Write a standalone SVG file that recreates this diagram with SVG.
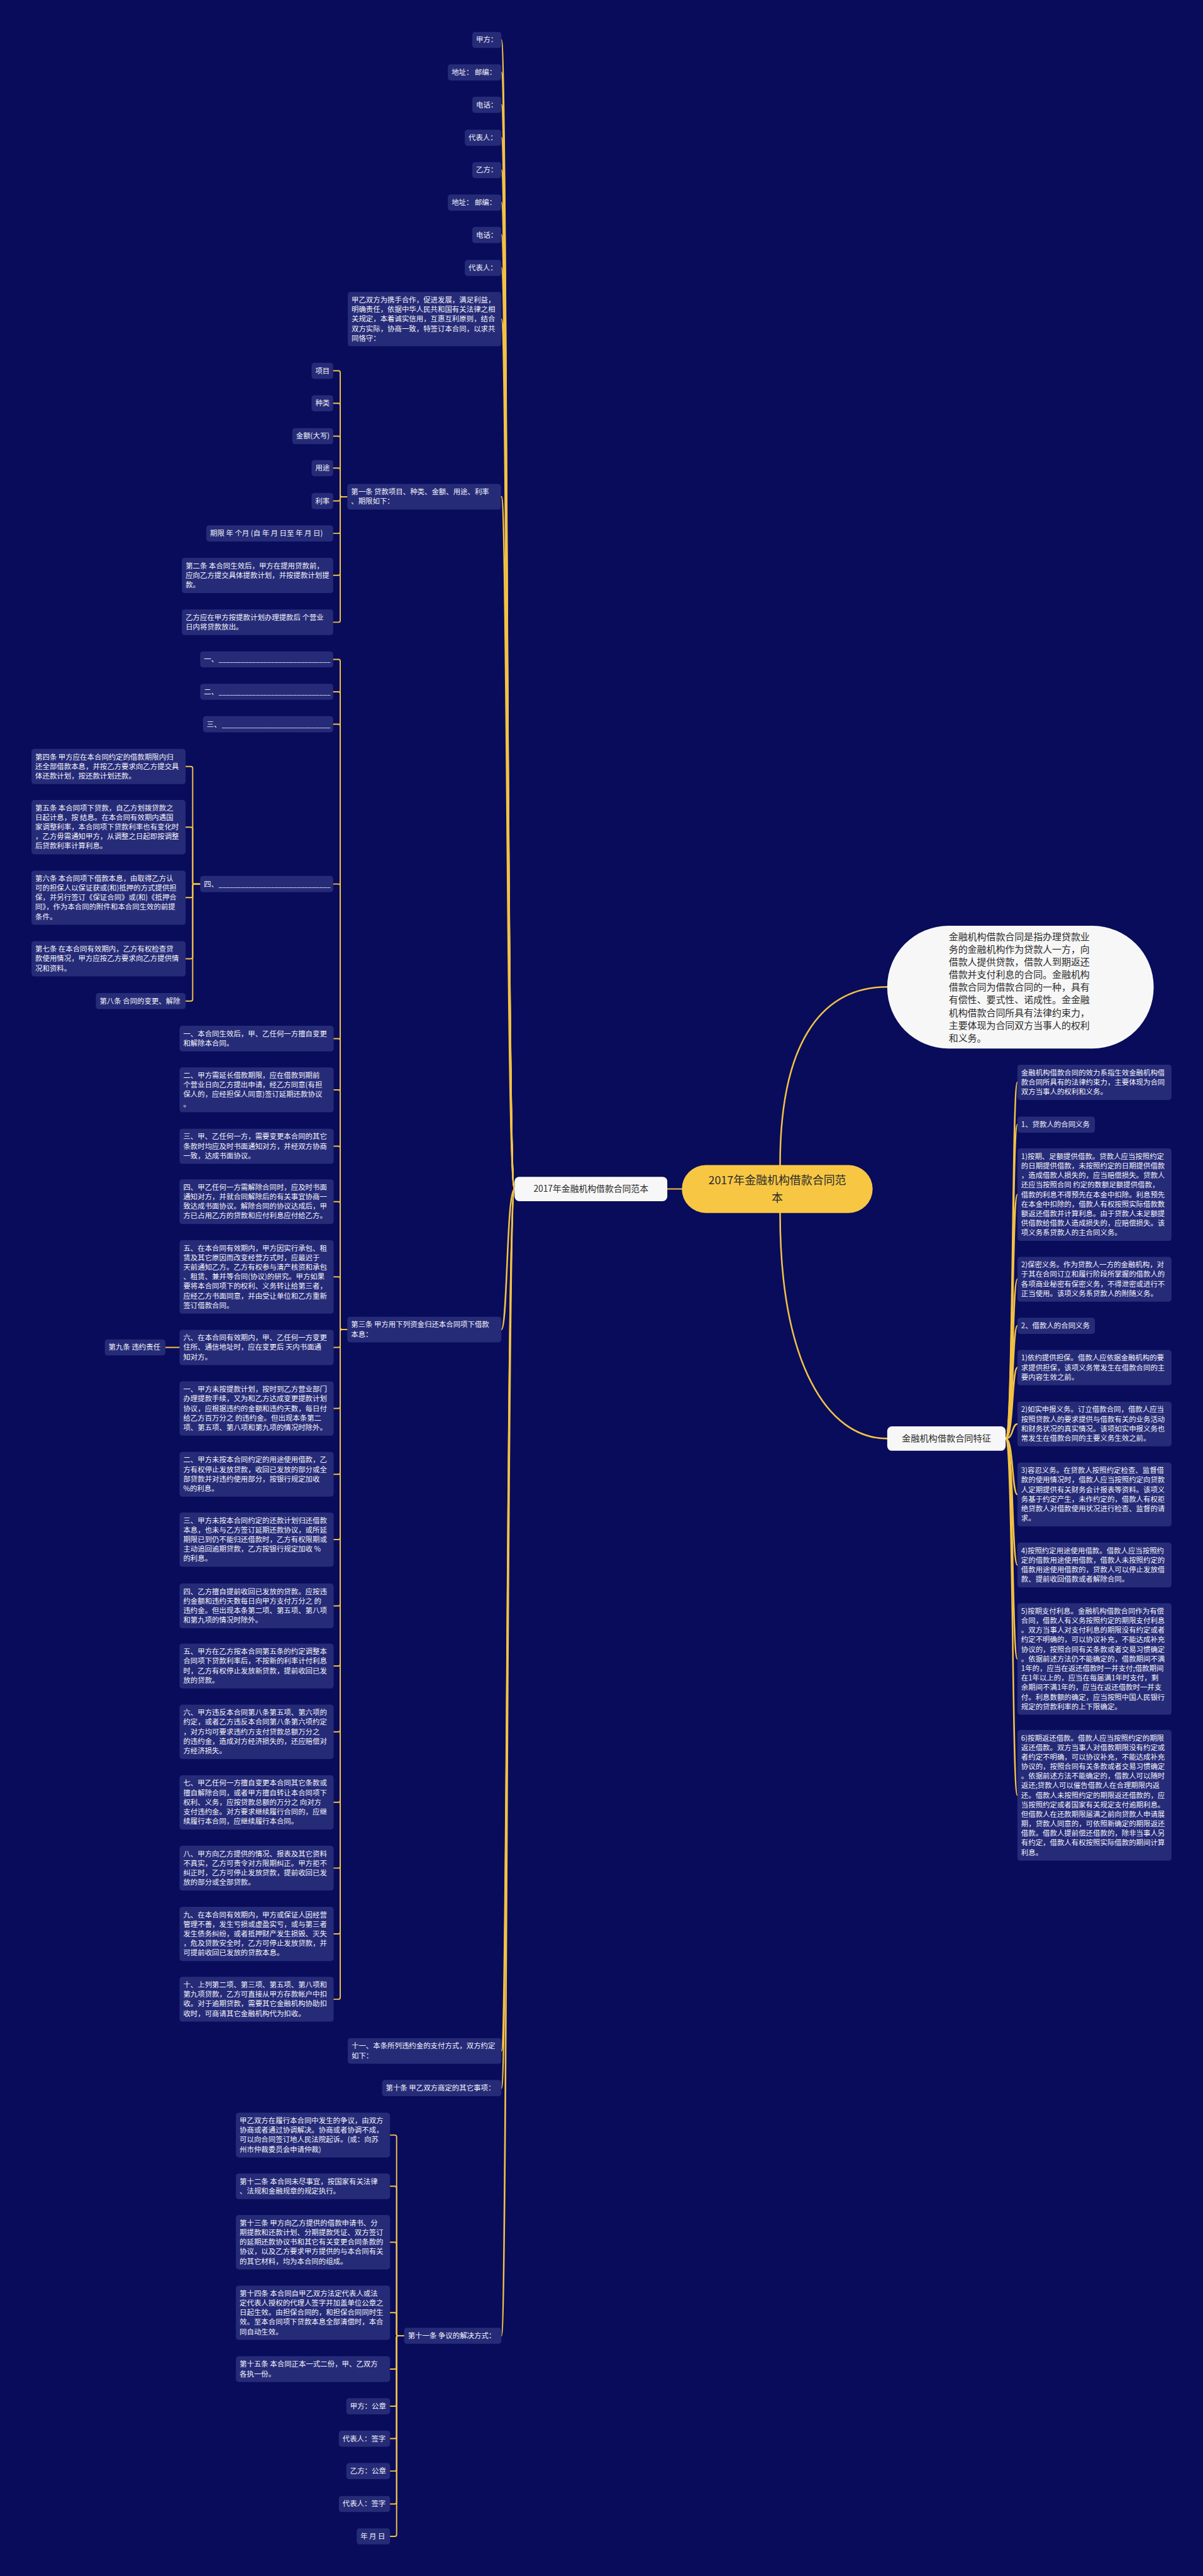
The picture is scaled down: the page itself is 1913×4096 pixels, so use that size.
<svg xmlns="http://www.w3.org/2000/svg" width="1913" height="4096" viewBox="0 0 1913 4096">
<style>
.n{fill:#262b78}
.t{font-family:"Noto Sans CJK SC","Noto Sans",sans-serif;font-size:15.3px;fill:#f4f4f8}
.w{fill:#f7f7f7}
.tw{font-family:"Noto Sans CJK SC","Noto Sans",sans-serif;fill:#2b2b2b}
.c{fill:none;stroke:#f3c244;stroke-width:2.6;stroke-linecap:round}
.k{fill:none;stroke:#f3c244;stroke-width:3.4;stroke-linecap:round}
</style>
<rect width="1913" height="4096" fill="#080c5b"/>
<g transform="scale(0.74727)">
<g id="connectors">
<path class="c" d="M1451 2530H1420"/>
<path class="k" d="M1660 2479C1660 2200 1760 2100 1888 2100"/>
<path class="k" d="M1660 2581C1660 2900 1760 3061 1888 3061"/>
<path class="k" d="M1095 2530C1078 2530 1080 85 1067 85"/>
<path class="k" d="M1095 2530C1078 2530 1080 154 1067 154"/>
<path class="k" d="M1095 2530C1078 2530 1080 223 1067 223"/>
<path class="k" d="M1095 2530C1078 2530 1080 293 1067 293"/>
<path class="k" d="M1095 2530C1078 2530 1080 362 1067 362"/>
<path class="k" d="M1095 2530C1078 2530 1080 431 1067 431"/>
<path class="k" d="M1095 2530C1078 2530 1080 500 1067 500"/>
<path class="k" d="M1095 2530C1078 2530 1080 570 1067 570"/>
<path class="k" d="M1095 2530C1078 2530 1080 679 1067 679"/>
<path class="k" d="M1095 2530C1078 2530 1080 1057 1067 1057"/>
<path class="k" d="M1095 2530C1078 2530 1080 2829 1067 2829"/>
<path class="k" d="M1095 2530C1078 2530 1080 4364 1067 4364"/>
<path class="k" d="M1095 2530C1078 2530 1080 4443 1067 4443"/>
<path class="k" d="M1095 2530C1078 2530 1080 4970 1067 4970"/>
<path class="c" d="M739 1057H727Q724 1057 724 1054V793Q724 789 720 789H709"/>
<path class="c" d="M739 1057H727Q724 1057 724 1054V862Q724 858 720 858H709"/>
<path class="c" d="M739 1057H727Q724 1057 724 1054V932Q724 928 720 928H709"/>
<path class="c" d="M739 1057H727Q724 1057 724 1054V1000Q724 996 720 996H709"/>
<path class="c" d="M739 1057H727Q724 1057 724 1060V1062Q724 1066 720 1066H709"/>
<path class="c" d="M739 1057H727Q724 1057 724 1060V1131Q724 1135 720 1135H709"/>
<path class="c" d="M739 1057H727Q724 1057 724 1060V1220Q724 1224 720 1224H709"/>
<path class="c" d="M739 1057H727Q724 1057 724 1060V1320Q724 1324 720 1324H709"/>
<path class="c" d="M739 2829H727Q724 2829 724 2826V1407Q724 1403 720 1403H709"/>
<path class="c" d="M739 2829H727Q724 2829 724 2826V1476Q724 1472 720 1472H709"/>
<path class="c" d="M739 2829H727Q724 2829 724 2826V1545Q724 1541 720 1541H709"/>
<path class="c" d="M739 2829H727Q724 2829 724 2826V1885Q724 1881 720 1881H709"/>
<path class="c" d="M739 2829H727Q724 2829 724 2826V2214Q724 2210 720 2210H710"/>
<path class="c" d="M739 2829H727Q724 2829 724 2826V2323Q724 2319 720 2319H710"/>
<path class="c" d="M739 2829H727Q724 2829 724 2826V2443Q724 2439 720 2439H710"/>
<path class="c" d="M739 2829H727Q724 2829 724 2826V2561Q724 2557 720 2557H710"/>
<path class="c" d="M739 2829H727Q724 2829 724 2826V2721Q724 2717 720 2717H710"/>
<path class="c" d="M739 2829H727Q724 2829 724 2832V2863Q724 2867 720 2867H710"/>
<path class="c" d="M739 2829H727Q724 2829 724 2832V2993Q724 2997 720 2997H710"/>
<path class="c" d="M739 2829H727Q724 2829 724 2832V3133Q724 3137 720 3137H710"/>
<path class="c" d="M739 2829H727Q724 2829 724 2832V3272Q724 3276 720 3276H710"/>
<path class="c" d="M739 2829H727Q724 2829 724 2832V3413Q724 3417 720 3417H710"/>
<path class="c" d="M739 2829H727Q724 2829 724 2832V3541Q724 3545 720 3545H710"/>
<path class="c" d="M739 2829H727Q724 2829 724 2832V3681Q724 3685 720 3685H710"/>
<path class="c" d="M739 2829H727Q724 2829 724 2832V3831Q724 3835 720 3835H710"/>
<path class="c" d="M739 2829H727Q724 2829 724 2832V3971Q724 3975 720 3975H710"/>
<path class="c" d="M739 2829H727Q724 2829 724 2832V4111Q724 4115 720 4115H710"/>
<path class="c" d="M739 2829H727Q724 2829 724 2832V4250Q724 4254 720 4254H710"/>
<path class="c" d="M426 1881H413Q410 1881 410 1878V1635Q410 1631 406 1631H395"/>
<path class="c" d="M426 1881H413Q410 1881 410 1878V1764Q410 1760 406 1760H395"/>
<path class="c" d="M426 1881H413Q410 1881 410 1884V1906Q410 1910 406 1910H395"/>
<path class="c" d="M426 1881H413Q410 1881 410 1884V2036Q410 2040 406 2040H395"/>
<path class="c" d="M426 1881H413Q410 1881 410 1884V2126Q410 2130 406 2130H395"/>
<path class="c" d="M382 2867H352"/>
<path class="c" d="M860 4970H847Q844 4970 844 4967V4547Q844 4543 840 4543H830"/>
<path class="c" d="M860 4970H847Q844 4970 844 4967V4656Q844 4652 840 4652H830"/>
<path class="c" d="M860 4970H847Q844 4970 844 4967V4775Q844 4771 840 4771H830"/>
<path class="c" d="M860 4970H847Q844 4970 844 4967V4925Q844 4921 840 4921H830"/>
<path class="c" d="M860 4970H847Q844 4970 844 4973V5037Q844 5041 840 5041H830"/>
<path class="c" d="M860 4970H847Q844 4970 844 4973V5116Q844 5120 840 5120H830"/>
<path class="c" d="M860 4970H847Q844 4970 844 4973V5185Q844 5189 840 5189H830"/>
<path class="c" d="M860 4970H847Q844 4970 844 4973V5254Q844 5258 840 5258H830"/>
<path class="c" d="M860 4970H847Q844 4970 844 4973V5324Q844 5328 840 5328H830"/>
<path class="c" d="M860 4970H847Q844 4970 844 4973V5393Q844 5397 840 5397H830"/>
<path class="k" d="M2140 3061C2157 3061 2153 2303 2165 2303"/>
<path class="k" d="M2140 3061C2157 3061 2153 2393 2165 2393"/>
<path class="k" d="M2140 3061C2157 3061 2153 2542 2165 2542"/>
<path class="k" d="M2140 3061C2157 3061 2153 2722 2165 2722"/>
<path class="k" d="M2140 3061C2157 3061 2153 2821 2165 2821"/>
<path class="k" d="M2140 3061C2157 3061 2153 2910 2165 2910"/>
<path class="k" d="M2140 3061C2157 3061 2153 3030 2165 3030"/>
<path class="k" d="M2140 3061C2157 3061 2153 3180 2165 3180"/>
<path class="k" d="M2140 3061C2157 3061 2153 3330 2165 3330"/>
<path class="k" d="M2140 3061C2157 3061 2153 3530 2165 3530"/>
<path class="k" d="M2140 3061C2157 3061 2153 3820 2165 3820"/>
</g>

<g id="root"><rect x="1451" y="2479" width="406" height="102" rx="51" fill="#f7c744"/><text class="tw" font-size="24" text-anchor="middle"><tspan x="1654" y="2519.5">2017年金融机构借款合同范</tspan><tspan x="1654" y="2557.5">本</tspan></text></g>
<g id="branch-left"><rect class="w" x="1095" y="2504" width="325" height="52" rx="10"/><text class="tw" font-size="18.5" x="1257.5" y="2536.5" text-anchor="middle">2017年金融机构借款合同范本</text></g>
<g id="branch-bubble"><rect class="w" x="1888" y="1970" width="567" height="261" rx="130"/><text class="tw" font-size="20"><tspan x="2019" y="2000">金融机构借款合同是指办理贷款业</tspan><tspan x="2019" y="2027">务的金融机构作为贷款人一方，向</tspan><tspan x="2019" y="2054">借款人提供贷款，借款人到期返还</tspan><tspan x="2019" y="2081">借款并支付利息的合同。金融机构</tspan><tspan x="2019" y="2108">借款合同为借款合同的一种，具有</tspan><tspan x="2019" y="2135">有偿性、要式性、诺成性。金金融</tspan><tspan x="2019" y="2162">机构借款合同所具有法律约束力，</tspan><tspan x="2019" y="2189">主要体现为合同双方当事人的权利</tspan><tspan x="2019" y="2216">和义务。</tspan></text></g>
<g id="branch-right"><rect class="w" x="1888" y="3035" width="252" height="52" rx="10"/><text class="tw" font-size="19" x="2014" y="3067.5" text-anchor="middle">金融机构借款合同特征</text></g>

<g id="n-jiafang"><rect class="n" x="1005" y="67.9" width="62" height="34.3" rx="6"/><text class="t" x="1013" y="90.3">甲方：</text></g>
<g id="n-addr1"><rect class="n" x="953" y="136.9" width="114" height="34.3" rx="6"/><text class="t" x="961" y="159.3">地址： 邮编：</text></g>
<g id="n-tel1"><rect class="n" x="1005" y="205.9" width="62" height="34.3" rx="6"/><text class="t" x="1013" y="228.3">电话：</text></g>
<g id="n-rep1"><rect class="n" x="989" y="275.9" width="78" height="34.3" rx="6"/><text class="t" x="997" y="298.3">代表人：</text></g>
<g id="n-yifang"><rect class="n" x="1005" y="344.9" width="62" height="34.3" rx="6"/><text class="t" x="1013" y="367.3">乙方：</text></g>
<g id="n-addr2"><rect class="n" x="953" y="413.9" width="114" height="34.3" rx="6"/><text class="t" x="961" y="436.3">地址： 邮编：</text></g>
<g id="n-tel2"><rect class="n" x="1005" y="482.9" width="62" height="34.3" rx="6"/><text class="t" x="1013" y="505.3">电话：</text></g>
<g id="n-rep2"><rect class="n" x="989" y="552.9" width="78" height="34.3" rx="6"/><text class="t" x="997" y="575.3">代表人：</text></g>
<g id="n-intro"><rect class="n" x="740" y="621.3" width="327" height="115.5" rx="6"/><text class="t"><tspan x="748" y="643.7">甲乙双方为携手合作，促进发展，满足利益，</tspan><tspan x="748" y="664">明确责任，依据中华人民共和国有关法律之相</tspan><tspan x="748" y="684.3">关规定，本着诚实信用，互惠互利原则，结合</tspan><tspan x="748" y="704.6">双方实际，协商一致，特签订本合同，以求共</tspan><tspan x="748" y="724.9">同恪守：</tspan></text></g>

<g id="n-art1"><rect class="n" x="739" y="1029.7" width="327" height="54.6" rx="6"/><text class="t"><tspan x="747" y="1052.2">第一条 贷款项目、种类、金额、用途、利率</tspan><tspan x="747" y="1072.5">、期限如下：</tspan></text></g>
<g id="n-xm"><rect class="n" x="663" y="771.9" width="46" height="34.3" rx="6"/><text class="t" x="671" y="794.3">项目</text></g>
<g id="n-zl"><rect class="n" x="663" y="840.9" width="46" height="34.3" rx="6"/><text class="t" x="671" y="863.3">种类</text></g>
<g id="n-je"><rect class="n" x="622" y="910.9" width="87" height="34.3" rx="6"/><text class="t" x="630" y="933.3">金额(大写)</text></g>
<g id="n-yt"><rect class="n" x="663" y="978.9" width="46" height="34.3" rx="6"/><text class="t" x="671" y="1001.3">用途</text></g>
<g id="n-ll"><rect class="n" x="663" y="1048.9" width="46" height="34.3" rx="6"/><text class="t" x="671" y="1071.3">利率</text></g>
<g id="n-qx"><rect class="n" x="439" y="1117.9" width="270" height="34.3" rx="6"/><text class="t" x="447" y="1140.3">期限 年 个月 (自 年 月 日至 年 月 日)</text></g>
<g id="n-art2"><rect class="n" x="387" y="1187.1" width="322" height="74.9" rx="6"/><text class="t"><tspan x="395" y="1209.5">第二条 本合同生效后，甲方在提用贷款前，</tspan><tspan x="395" y="1229.8">应向乙方提交具体提款计划，并按提款计划提</tspan><tspan x="395" y="1250.1">款。</tspan></text></g>
<g id="n-fang"><rect class="n" x="387" y="1296.7" width="322" height="54.6" rx="6"/><text class="t"><tspan x="395" y="1319.2">乙方应在甲方按提款计划办理提款后 个营业</tspan><tspan x="395" y="1339.5">日内将贷款放出。</tspan></text></g>

<g id="n-art3"><rect class="n" x="739" y="2801.7" width="328" height="54.6" rx="6"/><text class="t"><tspan x="747" y="2824.2">第三条 甲方用下列资金归还本合同项下借款</tspan><tspan x="747" y="2844.5">本息：</tspan></text></g>
<g id="n-b1"><rect class="n" x="426" y="1385.9" width="283" height="34.3" rx="6"/><text class="t" x="434" y="1408.3">一、 <tspan x="465" textLength="238" lengthAdjust="spacingAndGlyphs">______________________________</tspan></text></g>
<g id="n-b2"><rect class="n" x="426" y="1454.9" width="283" height="34.3" rx="6"/><text class="t" x="434" y="1477.3">二、 <tspan x="465" textLength="238" lengthAdjust="spacingAndGlyphs">______________________________</tspan></text></g>
<g id="n-b3"><rect class="n" x="432" y="1523.9" width="277" height="34.3" rx="6"/><text class="t" x="440" y="1546.3">三、 <tspan x="472" textLength="231" lengthAdjust="spacingAndGlyphs">_____________________________</tspan></text></g>
<g id="n-b4"><rect class="n" x="426" y="1863.9" width="283" height="34.3" rx="6"/><text class="t" x="434" y="1886.3">四、 <tspan x="465" textLength="238" lengthAdjust="spacingAndGlyphs">______________________________</tspan></text></g>
<g id="n-art4"><rect class="n" x="67" y="1593.6" width="328" height="74.9" rx="6"/><text class="t"><tspan x="75" y="1616">第四条 甲方应在本合同约定的借款期限内归</tspan><tspan x="75" y="1636.3">还全部借款本息，并按乙方要求向乙方提交具</tspan><tspan x="75" y="1656.6">体还款计划，按还款计划还款。</tspan></text></g>
<g id="n-art5"><rect class="n" x="67" y="1702.3" width="328" height="115.5" rx="6"/><text class="t"><tspan x="75" y="1724.7">第五条 本合同项下贷款，自乙方划拨贷款之</tspan><tspan x="75" y="1745">日起计息，按 结息。在本合同有效期内遇国</tspan><tspan x="75" y="1765.3">家调整利率，本合同项下贷款利率也有变化时</tspan><tspan x="75" y="1785.6">，乙方毋需通知甲方，从调整之日起即按调整</tspan><tspan x="75" y="1805.9">后贷款利率计算利息。</tspan></text></g>
<g id="n-art6"><rect class="n" x="67" y="1852.3" width="328" height="115.5" rx="6"/><text class="t"><tspan x="75" y="1874.7">第六条 本合同项下借款本息，由取得乙方认</tspan><tspan x="75" y="1895">可的担保人以保证获或(和)抵押的方式提供担</tspan><tspan x="75" y="1915.3">保，并另行签订《保证合同》或(和)《抵押合</tspan><tspan x="75" y="1935.6">同》，作为本合同的附件和本合同生效的前提</tspan><tspan x="75" y="1955.9">条件。</tspan></text></g>
<g id="n-art7"><rect class="n" x="67" y="2002.6" width="328" height="74.9" rx="6"/><text class="t"><tspan x="75" y="2025">第七条 在本合同有效期内，乙方有权检查贷</tspan><tspan x="75" y="2045.3">款使用情况，甲方应按乙方要求向乙方提供情</tspan><tspan x="75" y="2065.6">况和资料。</tspan></text></g>
<g id="n-art8"><rect class="n" x="204" y="2112.9" width="191" height="34.3" rx="6"/><text class="t" x="212" y="2135.3">第八条 合同的变更、解除</text></g>

<g id="n-c1"><rect class="n" x="382" y="2182.7" width="328" height="54.6" rx="6"/><text class="t"><tspan x="390" y="2205.2">一、本合同生效后，甲、乙任何一方擅自变更</tspan><tspan x="390" y="2225.5">和解除本合同。</tspan></text></g>
<g id="n-c2"><rect class="n" x="382" y="2271.4" width="328" height="95.2" rx="6"/><text class="t"><tspan x="390" y="2293.8">二、甲方需延长借款期限，应在借款到期前</tspan><tspan x="390" y="2314.1">个营业日向乙方提出申请，经乙方同意(有担</tspan><tspan x="390" y="2334.4">保人的，应经担保人同意)签订延期还款协议</tspan><tspan x="390" y="2354.7">。</tspan></text></g>
<g id="n-c3"><rect class="n" x="382" y="2401.6" width="328" height="74.9" rx="6"/><text class="t"><tspan x="390" y="2424">三、甲、乙任何一方，需要变更本合同的其它</tspan><tspan x="390" y="2444.3">条款时均应及时书面通知对方，并经双方协商</tspan><tspan x="390" y="2464.6">一致，达成书面协议。</tspan></text></g>
<g id="n-c4"><rect class="n" x="382" y="2509.4" width="328" height="95.2" rx="6"/><text class="t"><tspan x="390" y="2531.8">四、甲乙任何一方需解除合同时，应及时书面</tspan><tspan x="390" y="2552.1">通知对方，并就合同解除后的有关事宜协商一</tspan><tspan x="390" y="2572.4">致达成书面协议。解除合同的协议达成后，甲</tspan><tspan x="390" y="2592.7">方已占用乙方的贷款和应付利息应付给乙方。</tspan></text></g>
<g id="n-c5"><rect class="n" x="382" y="2639" width="328" height="156.1" rx="6"/><text class="t"><tspan x="390" y="2661.4">五、在本合同有效期内，甲方因实行承包、租</tspan><tspan x="390" y="2681.7">赁及其它原因而改变经营方式时，应最迟于</tspan><tspan x="390" y="2702">天前通知乙方。乙方有权参与清产核资和承包</tspan><tspan x="390" y="2722.3">、租赁、兼并等合同(协议)的研究。甲方如果</tspan><tspan x="390" y="2742.6">要将本合同项下的权利、义务转让给第三者，</tspan><tspan x="390" y="2762.9">应经乙方书面同意，并由受让单位和乙方重新</tspan><tspan x="390" y="2783.2">签订借款合同。</tspan></text></g>
<g id="n-c6"><rect class="n" x="382" y="2829.6" width="328" height="74.9" rx="6"/><text class="t"><tspan x="390" y="2852">六、在本合同有效期内，甲、乙任何一方变更</tspan><tspan x="390" y="2872.3">住所、通信地址时，应在变更后 天内书面通</tspan><tspan x="390" y="2892.6">知对方。</tspan></text></g>
<g id="n-art9"><rect class="n" x="223" y="2849.9" width="129" height="34.3" rx="6"/><text class="t" x="231" y="2872.3">第九条 违约责任</text></g>
<g id="n-d1"><rect class="n" x="382" y="2939.3" width="328" height="115.5" rx="6"/><text class="t"><tspan x="390" y="2961.7">一、甲方未按提款计划，按时到乙方营业部门</tspan><tspan x="390" y="2982">办理提款手续，又为和乙方达成变更提款计划</tspan><tspan x="390" y="3002.3">协议，应根据违约的金额和违约天数，每日付</tspan><tspan x="390" y="3022.6">给乙方百万分之 的违约金。但出现本条第二</tspan><tspan x="390" y="3042.9">项、第五项、第八项和第九项的情况时除外。</tspan></text></g>
<g id="n-d2"><rect class="n" x="382" y="3089.4" width="328" height="95.2" rx="6"/><text class="t"><tspan x="390" y="3111.8">二、甲方未按本合同约定的用途使用借款，乙</tspan><tspan x="390" y="3132.1">方有权停止发放贷款，收回已发放的部分或全</tspan><tspan x="390" y="3152.4">部贷款并对违约使用部分，按银行规定加收</tspan><tspan x="390" y="3172.7">%的利息。</tspan></text></g>
<g id="n-d3"><rect class="n" x="382" y="3218.3" width="328" height="115.5" rx="6"/><text class="t"><tspan x="390" y="3240.7">三、甲方未按本合同约定的还款计划归还借款</tspan><tspan x="390" y="3261">本息，也未与乙方签订延期还款协议，或所延</tspan><tspan x="390" y="3281.3">期限已到仍不能归还借款时，乙方有权限期或</tspan><tspan x="390" y="3301.6">主动追回逾期贷款，乙方按银行规定加收 %</tspan><tspan x="390" y="3321.9">的利息。</tspan></text></g>
<g id="n-d4"><rect class="n" x="382" y="3369.4" width="328" height="95.2" rx="6"/><text class="t"><tspan x="390" y="3391.8">四、乙方擅自提前收回已发放的贷款。应按违</tspan><tspan x="390" y="3412.1">约金额和违约天数每日向甲方支付万分之 的</tspan><tspan x="390" y="3432.4">违约金。但出现本条第二项、第五项、第八项</tspan><tspan x="390" y="3452.7">和第九项的情况时除外。</tspan></text></g>
<g id="n-d5"><rect class="n" x="382" y="3497.4" width="328" height="95.2" rx="6"/><text class="t"><tspan x="390" y="3519.8">五、甲方在乙方按本合同第五条的约定调整本</tspan><tspan x="390" y="3540.1">合同项下贷款利率后，不按新的利率计付利息</tspan><tspan x="390" y="3560.4">时，乙方有权停止发放新贷款，提前收回已发</tspan><tspan x="390" y="3580.7">放的贷款。</tspan></text></g>
<g id="n-d6"><rect class="n" x="382" y="3627.3" width="328" height="115.5" rx="6"/><text class="t"><tspan x="390" y="3649.7">六、甲方违反本合同第八条第五项、第六项的</tspan><tspan x="390" y="3670">约定，或者乙方违反本合同第八条第六项约定</tspan><tspan x="390" y="3690.3">，对方均可要求违约方支付贷款总额万分之</tspan><tspan x="390" y="3710.6">的违约金，造成对方经济损失的，还应赔偿对</tspan><tspan x="390" y="3730.9">方经济损失。</tspan></text></g>
<g id="n-d7"><rect class="n" x="382" y="3777.3" width="328" height="115.5" rx="6"/><text class="t"><tspan x="390" y="3799.7">七、甲乙任何一方擅自变更本合同其它条款或</tspan><tspan x="390" y="3820">擅自解除合同，或者甲方擅自转让本合同项下</tspan><tspan x="390" y="3840.3">权利、义务，应按贷款总额的万分之 向对方</tspan><tspan x="390" y="3860.6">支付违约金。对方要求继续履行合同的，应继</tspan><tspan x="390" y="3880.9">续履行本合同，应继续履行本合同。</tspan></text></g>
<g id="n-d8"><rect class="n" x="382" y="3927.4" width="328" height="95.2" rx="6"/><text class="t"><tspan x="390" y="3949.8">八、甲方向乙方提供的情况、报表及其它资料</tspan><tspan x="390" y="3970.1">不真实，乙方可责令对方限期纠正。甲方拒不</tspan><tspan x="390" y="3990.4">纠正时，乙方可停止发放贷款，提前收回已发</tspan><tspan x="390" y="4010.7">放的部分或全部贷款。</tspan></text></g>
<g id="n-d9"><rect class="n" x="382" y="4057.3" width="328" height="115.5" rx="6"/><text class="t"><tspan x="390" y="4079.7">九、在本合同有效期内，甲方或保证人因经营</tspan><tspan x="390" y="4100">管理不善，发生亏损或虚盈实亏，或与第三者</tspan><tspan x="390" y="4120.3">发生债务纠纷，或者抵押财产发生损毁、灭失</tspan><tspan x="390" y="4140.6">，危及贷款安全时，乙方可停止发放贷款，并</tspan><tspan x="390" y="4160.9">可提前收回已发放的贷款本息。</tspan></text></g>
<g id="n-d10"><rect class="n" x="382" y="4206.4" width="328" height="95.2" rx="6"/><text class="t"><tspan x="390" y="4228.8">十、上列第二项、第三项、第五项、第八项和</tspan><tspan x="390" y="4249.1">第九项贷款，乙方可直接从甲方存款帐户中扣</tspan><tspan x="390" y="4269.4">收。对于逾期贷款，需要其它金融机构协助扣</tspan><tspan x="390" y="4289.7">收时，可商请其它金融机构代为扣收。</tspan></text></g>

<g id="n-d11"><rect class="n" x="740" y="4336.7" width="327" height="54.6" rx="6"/><text class="t"><tspan x="748" y="4359.2">十一、本条所列违约金的支付方式，双方约定</tspan><tspan x="748" y="4379.5">如下：</tspan></text></g>
<g id="n-art10"><rect class="n" x="813" y="4425.9" width="254" height="34.3" rx="6"/><text class="t" x="821" y="4448.3">第十条 甲乙双方商定的其它事项：</text></g>
<g id="n-art11"><rect class="n" x="860" y="4952.9" width="207" height="34.3" rx="6"/><text class="t" x="868" y="4975.3">第十一条 争议的解决方式：</text></g>
<g id="n-e1"><rect class="n" x="502" y="4495.4" width="328" height="95.2" rx="6"/><text class="t"><tspan x="510" y="4517.8">甲乙双方在履行本合同中发生的争议，由双方</tspan><tspan x="510" y="4538.1">协商或者通过协调解决。协商或者协调不成，</tspan><tspan x="510" y="4558.4">可以向合同签订地人民法院起诉。(或：向苏</tspan><tspan x="510" y="4578.7">州市仲裁委员会申请仲裁)</tspan></text></g>
<g id="n-art12"><rect class="n" x="502" y="4624.7" width="328" height="54.6" rx="6"/><text class="t"><tspan x="510" y="4647.2">第十二条 本合同未尽事宜，按国家有关法律</tspan><tspan x="510" y="4667.5">、法规和金融规章的规定执行。</tspan></text></g>
<g id="n-art13"><rect class="n" x="502" y="4713.3" width="328" height="115.5" rx="6"/><text class="t"><tspan x="510" y="4735.7">第十三条 甲方向乙方提供的借款申请书、分</tspan><tspan x="510" y="4756">期提款和还款计划、分期提款凭证、双方签订</tspan><tspan x="510" y="4776.3">的延期还款协议书和其它有关变更合同条款的</tspan><tspan x="510" y="4796.6">协议，以及乙方要求甲方提供的与本合同有关</tspan><tspan x="510" y="4816.9">的其它材料，均为本合同的组成。</tspan></text></g>
<g id="n-art14"><rect class="n" x="502" y="4863.3" width="328" height="115.5" rx="6"/><text class="t"><tspan x="510" y="4885.7">第十四条 本合同自甲乙双方法定代表人或法</tspan><tspan x="510" y="4906">定代表人授权的代理人签字并加盖单位公章之</tspan><tspan x="510" y="4926.3">日起生效。由担保合同的，和担保合同同时生</tspan><tspan x="510" y="4946.6">效。至本合同项下贷款本息全部清偿时，本合</tspan><tspan x="510" y="4966.9">同自动生效。</tspan></text></g>
<g id="n-art15"><rect class="n" x="502" y="5013.7" width="328" height="54.6" rx="6"/><text class="t"><tspan x="510" y="5036.2">第十五条 本合同正本一式二份，甲、乙双方</tspan><tspan x="510" y="5056.5">各执一份。</tspan></text></g>
<g id="n-s1"><rect class="n" x="737" y="5102.9" width="93" height="34.3" rx="6"/><text class="t" x="745" y="5125.3">甲方：公章</text></g>
<g id="n-s2"><rect class="n" x="721" y="5171.9" width="109" height="34.3" rx="6"/><text class="t" x="729" y="5194.3">代表人：签字</text></g>
<g id="n-s3"><rect class="n" x="737" y="5240.9" width="93" height="34.3" rx="6"/><text class="t" x="745" y="5263.3">乙方：公章</text></g>
<g id="n-s4"><rect class="n" x="721" y="5310.9" width="109" height="34.3" rx="6"/><text class="t" x="729" y="5333.3">代表人：签字</text></g>
<g id="n-s5"><rect class="n" x="759" y="5379.9" width="71" height="34.3" rx="6"/><text class="t" x="767" y="5402.3">年 月 日</text></g>

<g id="n-r0"><rect class="n" x="2165" y="2265.6" width="328" height="74.9" rx="6"/><text class="t"><tspan x="2173" y="2288">金融机构借款合同的效力系指生效金融机构借</tspan><tspan x="2173" y="2308.3">款合同所具有的法律约束力，主要体现为合同</tspan><tspan x="2173" y="2328.6">双方当事人的权利和义务。</tspan></text></g>
<g id="n-r1"><rect class="n" x="2165" y="2375.9" width="165" height="34.3" rx="6"/><text class="t" x="2173" y="2398.3">1、贷款人的合同义务</text></g>
<g id="n-r11"><rect class="n" x="2165" y="2443.7" width="328" height="196.7" rx="6"/><text class="t"><tspan x="2173" y="2466.1">1)按期、足额提供借款。贷款人应当按照约定</tspan><tspan x="2173" y="2486.4">的日期提供借款，未按照约定的日期提供借款</tspan><tspan x="2173" y="2506.7">，造成借款人损失的，应当赔偿损失。贷款人</tspan><tspan x="2173" y="2527">还应当按照合同 约定的数额足额提供借款，</tspan><tspan x="2173" y="2547.3">借款的利息不得预先在本金中扣除。利息预先</tspan><tspan x="2173" y="2567.6">在本金中扣除的，借款人有权按照实际借款数</tspan><tspan x="2173" y="2587.9">额返还借款并计算利息。由于贷款人未足额提</tspan><tspan x="2173" y="2608.2">供借款给借款人造成损失的，应赔偿损失。该</tspan><tspan x="2173" y="2628.5">项义务系贷款人的主合同义务。</tspan></text></g>
<g id="n-r12"><rect class="n" x="2165" y="2674.4" width="328" height="95.2" rx="6"/><text class="t"><tspan x="2173" y="2696.8">2)保密义务。作为贷款人一方的金融机构，对</tspan><tspan x="2173" y="2717.1">于其在合同订立和履行阶段所掌握的借款人的</tspan><tspan x="2173" y="2737.4">各项商业秘密有保密义务，不得泄密或进行不</tspan><tspan x="2173" y="2757.7">正当使用。该项义务系贷款人的附随义务。</tspan></text></g>
<g id="n-r2"><rect class="n" x="2165" y="2803.9" width="165" height="34.3" rx="6"/><text class="t" x="2173" y="2826.3">2、借款人的合同义务</text></g>
<g id="n-r21"><rect class="n" x="2165" y="2872.6" width="328" height="74.9" rx="6"/><text class="t"><tspan x="2173" y="2895">1)依约提供担保。借款人应依据金融机构的要</tspan><tspan x="2173" y="2915.3">求提供担保，该项义务常发生在借款合同的主</tspan><tspan x="2173" y="2935.6">要内容生效之前。</tspan></text></g>
<g id="n-r22"><rect class="n" x="2165" y="2982.4" width="328" height="95.2" rx="6"/><text class="t"><tspan x="2173" y="3004.8">2)如实申报义务。订立借款合同，借款人应当</tspan><tspan x="2173" y="3025.1">按照贷款人的要求提供与借款有关的业务活动</tspan><tspan x="2173" y="3045.4">和财务状况的真实情况。该项如实申报义务也</tspan><tspan x="2173" y="3065.7">常发生在借款合同的主要义务生效之前。</tspan></text></g>
<g id="n-r23"><rect class="n" x="2165" y="3112.1" width="328" height="135.8" rx="6"/><text class="t"><tspan x="2173" y="3134.5">3)容忍义务。在贷款人按照约定检查、监督借</tspan><tspan x="2173" y="3154.8">款的使用情况时，借款人应当按照约定向贷款</tspan><tspan x="2173" y="3175.1">人定期提供有关财务会计报表等资料。该项义</tspan><tspan x="2173" y="3195.4">务基于约定产生，未作约定的，借款人有权拒</tspan><tspan x="2173" y="3215.7">绝贷款人对借款使用状况进行检查、监督的请</tspan><tspan x="2173" y="3236">求。</tspan></text></g>
<g id="n-r24"><rect class="n" x="2165" y="3282.4" width="328" height="95.2" rx="6"/><text class="t"><tspan x="2173" y="3304.8">4)按照约定用途使用借款。借款人应当按照约</tspan><tspan x="2173" y="3325.1">定的借款用途使用借款，借款人未按照约定的</tspan><tspan x="2173" y="3345.4">借款用途使用借款的，贷款人可以停止发放借</tspan><tspan x="2173" y="3365.7">款、提前收回借款或者解除合同。</tspan></text></g>
<g id="n-r25"><rect class="n" x="2165" y="3411.4" width="328" height="237.3" rx="6"/><text class="t"><tspan x="2173" y="3433.8">5)按期支付利息。金融机构借款合同作为有偿</tspan><tspan x="2173" y="3454.1">合同，借款人有义务按照约定的期限支付利息</tspan><tspan x="2173" y="3474.4">。双方当事人对支付利息的期限没有约定或者</tspan><tspan x="2173" y="3494.7">约定不明确的，可以协议补充，不能达成补充</tspan><tspan x="2173" y="3515">协议的，按照合同有关条款或者交易习惯确定</tspan><tspan x="2173" y="3535.3">。依据前述方法仍不能确定的，借款期间不满</tspan><tspan x="2173" y="3555.6">1年的，应当在返还借款时一并支付;借款期间</tspan><tspan x="2173" y="3575.9">在1年以上的，应当在每届满1年时支付，剩</tspan><tspan x="2173" y="3596.2">余期间不满1年的，应当在返还借款时一并支</tspan><tspan x="2173" y="3616.5">付。利息数额的确定，应当按照中国人民银行</tspan><tspan x="2173" y="3636.8">规定的贷款利率的上下限确定。</tspan></text></g>
<g id="n-r26"><rect class="n" x="2165" y="3681.1" width="328" height="277.9" rx="6"/><text class="t"><tspan x="2173" y="3703.5">6)按期返还借款。借款人应当按照约定的期限</tspan><tspan x="2173" y="3723.8">返还借款。双方当事人对借款期限没有约定或</tspan><tspan x="2173" y="3744.1">者约定不明确，可以协议补充，不能达成补充</tspan><tspan x="2173" y="3764.4">协议的，按照合同有关条款或者交易习惯确定</tspan><tspan x="2173" y="3784.7">。依据前述方法不能确定的，借款人可以随时</tspan><tspan x="2173" y="3805">返还;贷款人可以催告借款人在合理期限内返</tspan><tspan x="2173" y="3825.3">还。借款人未按照约定的期限返还借款的，应</tspan><tspan x="2173" y="3845.6">当按照约定或者国家有关规定支付逾期利息。</tspan><tspan x="2173" y="3865.9">但借款人在还款期限届满之前向贷款人申请展</tspan><tspan x="2173" y="3886.2">期，贷款人同意的，可依照新确定的期限返还</tspan><tspan x="2173" y="3906.5">借款。借款人提前偿还借款的，除非当事人另</tspan><tspan x="2173" y="3926.8">有约定，借款人有权按照实际借款的期间计算</tspan><tspan x="2173" y="3947.1">利息。</tspan></text></g>
</g>
</svg>
